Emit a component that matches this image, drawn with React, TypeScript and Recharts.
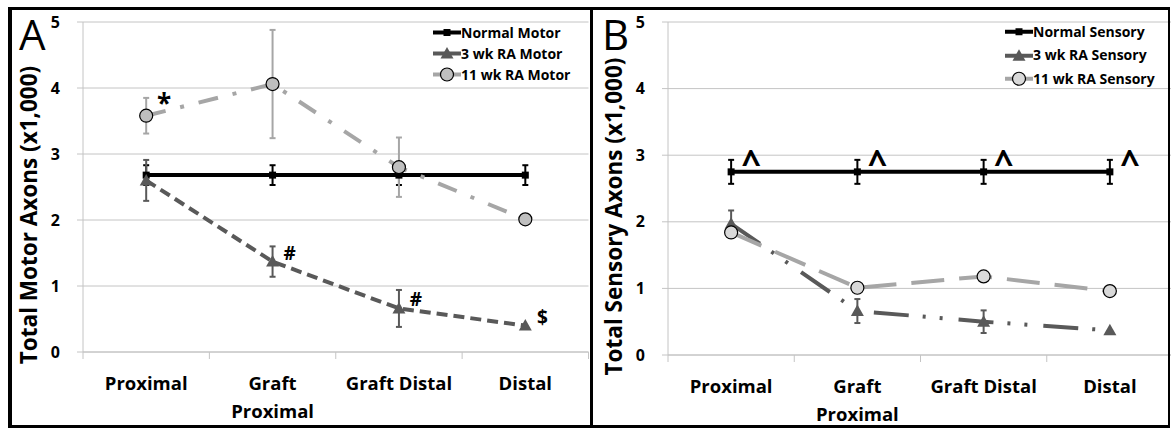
import React from 'react'
import { LineChart, Line, XAxis, YAxis, CartesianGrid, ErrorBar, Legend, LabelList } from 'recharts'

const FONT = "'Open Sans', 'Noto Sans', sans-serif"

// shared axis content
const categories = ['Proximal', 'Graft Proximal', 'Graft Distal', 'Distal']
const categoryLines = [['Proximal'], ['Graft', 'Proximal'], ['Graft Distal'], ['Distal']]
const yTicks = [0, 1, 2, 3, 4, 5]
const xTicks = [0, 0.5, 1, 1.5, 2, 2.5, 3, 3.5, 4]

// Panel A - motor axons (x1,000)
const normalMotor = [2.68, 2.68, 2.68, 2.68]
const normalMotorErr = [0.15, 0.15, 0.15, 0.15]
const wk3Motor = [2.6, 1.37, 0.66, 0.4]
const wk3MotorErr = [0.31, 0.23, 0.28, null]
const wk3MotorMarks = ['', '#', '#', '$']
const wk11Motor = [3.58, 4.06, 2.8, 2.01]
const wk11MotorErr = [0.27, 0.82, 0.45, null]
const wk11MotorMarks = ['*', '', '', '']

// Panel B - sensory axons (x1,000)
const normalSensory = [2.75, 2.75, 2.75, 2.75]
const normalSensoryErr = [0.18, 0.18, 0.18, 0.18]
const normalSensoryMarks = ['^', '^', '^', '^']
const wk3Sensory = [1.97, 0.66, 0.5, 0.37]
const wk3SensoryErr = [0.2, 0.18, 0.17, null]
const wk11Sensory = [1.84, 1.01, 1.18, 0.96]

const DARK = '#595959'
const LIGHT = '#a6a6a6'
const GRID = '#c4c4c4'

const motorData = categories.map((name, i) => ({
  x: i + 0.5,
  name,
  normal: normalMotor[i],
  normalErr: normalMotorErr[i],
  wk3: wk3Motor[i],
  wk3Err: wk3MotorErr[i],
  wk3Mark: wk3MotorMarks[i],
  wk11: wk11Motor[i],
  wk11Err: wk11MotorErr[i],
  wk11Mark: wk11MotorMarks[i]
}))

const sensoryData = categories.map((name, i) => ({
  x: i + 0.5,
  name,
  normal: normalSensory[i],
  normalErr: normalSensoryErr[i],
  normalMark: normalSensoryMarks[i],
  wk3: wk3Sensory[i],
  wk3Err: wk3SensoryErr[i],
  wk11: wk11Sensory[i]
}))

// Markers
function Marker({ shape, cx, cy, fill }: any) {
  if (cx == null || cy == null) return null
  if (shape === 'square') {
    return <rect x={cx - 3.5} y={cy - 3.5} width={7} height={7} fill="#000" />
  }
  if (shape === 'triangle') {
    return <polygon points={`${cx},${cy - 6.5} ${cx - 6.5},${cy + 5} ${cx + 6.5},${cy + 5}`} fill={DARK} />
  }
  return <circle cx={cx} cy={cy} r={6.5} fill={fill} stroke="#000" strokeWidth={1.2} />
}

const dotOf = (shape: string, fill?: string) => (p: any) =>
  <Marker key={`m-${shape}-${p.index}`} shape={shape} cx={p.cx} cy={p.cy} fill={fill} />

// Category tick: boundary tick marks on integers, wrapped labels on half steps
function CategoryTick({ x, y, payload }: any) {
  const v = payload.value
  if (Number.isInteger(v)) {
    return <line x1={x} x2={x} y1={y} y2={y + 7} stroke={GRID} strokeWidth={1} />
  }
  const lines = categoryLines[Math.floor(v)]
  return (
    <text textAnchor="middle" fontFamily={FONT} fontWeight={700} fontSize={18.5} fill="#000">
      {lines.map((l, i) => (
        <tspan key={i} x={x} y={y + 38 + i * 28}>{l}</tspan>
      ))}
    </text>
  )
}

// Annotation symbols next to points
const markLabel = (dx: number, dy: number, size: number) => (props: any) => {
  const { value, index } = props
  if (!value) return null
  const x = props.viewBox?.x ?? props.x
  const y = props.viewBox?.y ?? props.y
  return (
    <text key={`a-${index}`} x={x + dx} y={y + dy} textAnchor="middle" fontFamily={FONT} fontWeight={700} fontSize={size} fill="#000">
      {value}
    </text>
  )
}

const yLabel = (text: string, shiftX: number, shiftY: number) => (props: any) => {
  const vb = props.viewBox
  const x = vb.x + shiftX
  const y = vb.y + vb.height / 2 + shiftY
  return (
    <text x={x} y={y} transform={`rotate(-90, ${x}, ${y})`} textAnchor="middle" dominantBaseline="central"
      fontFamily={FONT} fontWeight={700} fontSize={22.5} fill="#000">
      {text}
    </text>
  )
}

interface LegendItem {
  label: string
  color: string
  shape: string
  fill?: string
}

const legendMotor: LegendItem[] = [
  { label: 'Normal Motor', color: '#000', shape: 'square' },
  { label: '3 wk RA Motor', color: DARK, shape: 'triangle' },
  { label: '11 wk RA Motor', color: LIGHT, shape: 'circle', fill: '#bfbfbf' }
]

const legendSensory: LegendItem[] = [
  { label: 'Normal Sensory', color: '#000', shape: 'square' },
  { label: '3 wk RA Sensory', color: DARK, shape: 'triangle' },
  { label: '11 wk RA Sensory', color: LIGHT, shape: 'circle', fill: '#d9d9d9' }
]

const legendContent = (items: LegendItem[], rowH: number) => () => (
  <div style={{ display: 'flex', flexDirection: 'column' }}>
    {items.map((it) => (
      <div key={it.label} style={{ height: rowH, display: 'flex', alignItems: 'center' }}>
        <svg width={28} height={rowH} style={{ display: 'block' }}>
          <line x1={0} x2={28} y1={rowH / 2} y2={rowH / 2} stroke={it.color} strokeWidth={4} />
          <Marker shape={it.shape} cx={14} cy={rowH / 2} fill={it.fill} />
        </svg>
        <span style={{ fontFamily: FONT, fontWeight: 700, fontSize: 14, color: '#000', whiteSpace: 'nowrap', lineHeight: 1 }}>
          {it.label}
        </span>
      </div>
    ))}
  </div>
)

interface PanelProps {
  data: any[]
  left: number
  margin: { top: number; right: number; bottom: number; left: number }
  yTitle: string
  legend: LegendItem[]
  legendPos: { left: number; top: number; rowH: number }
  wk3Dash: string
  wk11Dash: string
  wk11Fill: string
  showWk11Err: boolean
}

function Panel({ data, left, margin, yTitle, legend, legendPos, wk3Dash, wk11Dash, wk11Fill, showWk11Err }: PanelProps) {
  const hasMarks = data[0].wk3Mark !== undefined
  const hasWk11Marks = data[0].wk11Mark !== undefined
  const hasNormalMarks = data[0].normalMark !== undefined
  return (
    <div style={{ position: 'absolute', left, top: 0 }}>
      <LineChart width={590} height={429} data={data} margin={margin}>
        <CartesianGrid horizontal vertical={false} stroke={GRID} />
        <XAxis
          dataKey="x"
          type="number"
          domain={[0, 4]}
          ticks={xTicks}
          interval={0}
          height={60}
          tickSize={0}
          tickMargin={0}
          tickLine={false}
          axisLine={{ stroke: GRID }}
          tick={<CategoryTick />}
        />
        <YAxis
          type="number"
          domain={[0, 5]}
          ticks={yTicks}
          width={60}
          tickSize={6}
          tickMargin={17}
          axisLine={{ stroke: GRID }}
          tickLine={{ stroke: GRID }}
          tick={{ fontFamily: FONT, fontWeight: 700, fontSize: 16, fill: '#000' }}
          label={{ content: yLabel(yTitle, 5, 28) }}
        />
        <Legend
          layout="horizontal"
          verticalAlign="middle"
          align="center"
          content={legendContent(legend, legendPos.rowH)}
          wrapperStyle={{ left: legendPos.left, top: legendPos.top, width: 170, height: legendPos.rowH * 3 }}
        />
        <Line
          dataKey="normal"
          stroke="#000"
          strokeWidth={4}
          dot={dotOf('square')}
          activeDot={false}
          isAnimationActive={false}
        >
          <ErrorBar dataKey="normalErr" width={3} strokeWidth={2} stroke="#000" direction="y" />
          {hasNormalMarks && <LabelList dataKey="normalMark" content={markLabel(20, 3, 34)} />}
        </Line>
        <Line
          dataKey="wk3"
          stroke={DARK}
          strokeWidth={4}
          strokeDasharray={wk3Dash}
          dot={dotOf('triangle')}
          activeDot={false}
          isAnimationActive={false}
        >
          <ErrorBar dataKey="wk3Err" width={3} strokeWidth={2} stroke={DARK} direction="y" />
          {hasMarks && <LabelList dataKey="wk3Mark" content={markLabel(17, -2, 19)} />}
        </Line>
        <Line
          dataKey="wk11"
          stroke={LIGHT}
          strokeWidth={4}
          strokeDasharray={wk11Dash}
          dot={dotOf('circle', wk11Fill)}
          activeDot={false}
          isAnimationActive={false}
        >
          {showWk11Err && <ErrorBar dataKey="wk11Err" width={3} strokeWidth={2} stroke={LIGHT} direction="y" />}
          {hasWk11Marks && <LabelList dataKey="wk11Mark" content={markLabel(18, -3, 26)} />}
        </Line>
      </LineChart>
    </div>
  )
}

export default function App() {
  return (
    <div style={{ position: 'absolute', left: 0, top: 0, width: 1171, height: 429, overflow: 'hidden', background: '#fff' }}>
      <Panel
        data={motorData}
        left={0}
        margin={{ top: 22, right: 1.5, bottom: 17, left: 23 }}
        yTitle="Total Motor Axons (x1,000)"
        legend={legendMotor}
        legendPos={{ left: 433, top: 22, rowH: 21 }}
        wk3Dash="11 6"
        wk11Dash="20 15 4 15"
        wk11Fill="#bfbfbf"
        showWk11Err
      />
      <Panel
        data={sensoryData}
        left={590}
        margin={{ top: 22, right: 7, bottom: 14, left: 18 }}
        yTitle="Total Sensory Axons (x1,000)"
        legend={legendSensory}
        legendPos={{ left: 415, top: 20, rowH: 23.5 }}
        wk3Dash="35 14 3 14 3 16"
        wk11Dash="33 15"
        wk11Fill="#d9d9d9"
        showWk11Err={false}
      />
      {/* panel frames */}
      <div style={{ position: 'absolute', left: 8, top: 7, width: 579, height: 415, borderLeft: '4px solid #000', borderTop: '3px solid #000', borderBottom: '3px solid #000', borderRight: '1px solid #000', pointerEvents: 'none' }} />
      <div style={{ position: 'absolute', left: 590, top: 7, width: 575, height: 415, borderLeft: '3px solid #000', borderTop: '3px solid #000', borderBottom: '3px solid #000', borderRight: '2px solid #000', pointerEvents: 'none' }} />
      <div style={{ position: 'absolute', left: 19, top: 13, fontFamily: FONT, fontSize: 42, lineHeight: 1, color: '#000' }}>A</div>
      <div style={{ position: 'absolute', left: 602, top: 13, fontFamily: FONT, fontSize: 42, lineHeight: 1, color: '#000' }}>B</div>
    </div>
  )
}
